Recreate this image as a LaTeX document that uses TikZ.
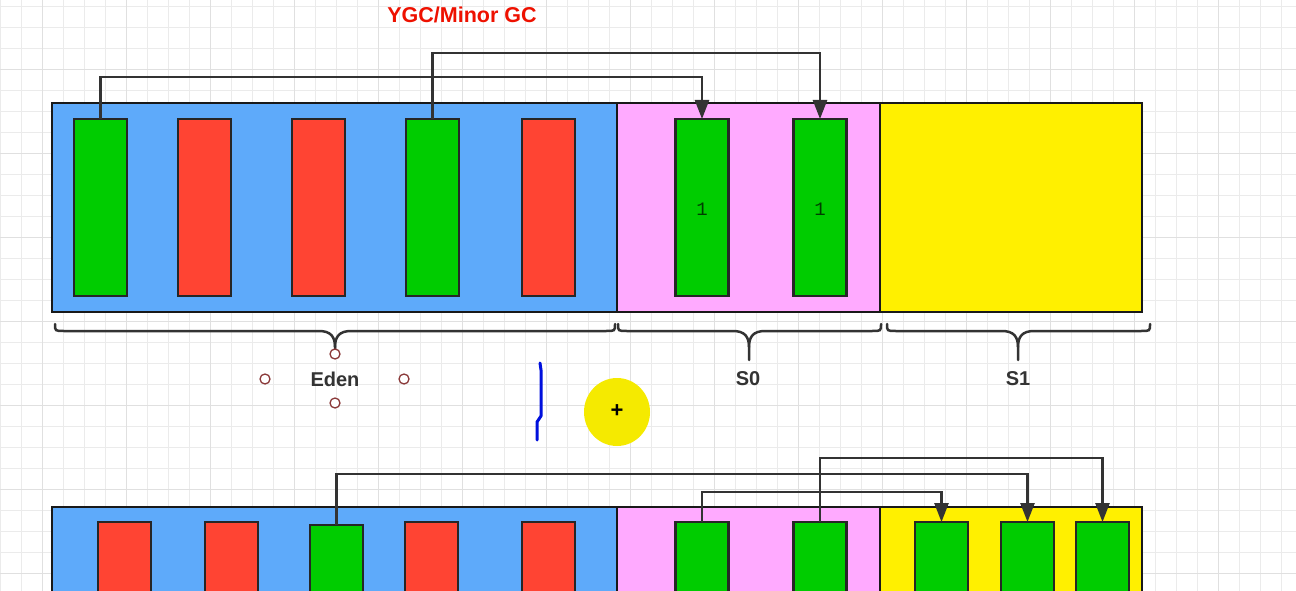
\documentclass[tikz,border=0pt]{standalone}
\usepackage{fontspec}
\setmainfont{Liberation Sans}
\newfontfamily\labelmono{Liberation Mono}
\usetikzlibrary{arrows.meta}
\definecolor{edenblue}{HTML}{5EAAFA}
\definecolor{survpink}{HTML}{FFAAFF}
\definecolor{survyellow}{HTML}{FFF000}
\definecolor{livegreen}{HTML}{00CC00}
\definecolor{deadred}{HTML}{FF4433}
\definecolor{titlered}{HTML}{EE1100}
\definecolor{inkgray}{HTML}{333333}
\definecolor{handlered}{HTML}{8B3A3A}
\definecolor{cursoryellow}{HTML}{F5EA00}
\definecolor{penblue}{HTML}{0010DD}
\newcommand\mybrace[4]{%
  \draw[bracestyle] (#1,324) .. controls (#1,331) .. (#1+9,331) -- (#2-16,331)
      .. controls (#2-4,331) and (#2,337) .. (#2,347) -- (#2,#4);
  \draw[bracestyle] (#3,324) .. controls (#3,331) .. (#3-9,331) -- (#2+16,331)
      .. controls (#2+4,331) and (#2,337) .. (#2,347);}
\begin{document}
\begin{tikzpicture}[x=1pt,y=-1pt,
  gridminor/.style={draw=black!8, line width=0.9pt},
  gridmajor/.style={draw=black!12, line width=1.1pt},
  region/.style={draw=black!90, line width=2.5pt, inner sep=0pt, outer sep=0pt, minimum height=209pt},
  blk/.style={draw=black!85, line width=2.2pt, inner sep=0pt, outer sep=0pt, minimum width=53pt, minimum height=177pt},
  liveblk/.style={blk, fill=livegreen},
  deadblk/.style={blk, fill=deadred},
  conn/.style={draw=inkgray, line width=2.5pt, -{Triangle[length=19pt,width=14pt]}},
  bracestyle/.style={draw=inkgray, line width=2.5pt, line cap=round},
  arealabel/.style={text=inkgray, font=\fontsize{20}{24}\selectfont\bfseries},
  handle/.style={draw=handlered, fill=white, line width=1.3pt, circle, inner sep=0pt, minimum size=10pt},
  agelabel/.style={text=black!70!livegreen, font=\labelmono\fontsize{19}{22}\selectfont}
]
\clip (0,0) rectangle (1296,591);
\fill[white] (0,0) rectangle (1296,591);
% grid
\foreach \i in {0,...,61} \draw[gridminor] ({0.7+21*\i},0) -- ({0.7+21*\i},591);
\foreach \j in {0,...,28} \draw[gridminor] (0,{6.3+21*\j}) -- (1296,{6.3+21*\j});
\foreach \i in {0,...,15} \draw[gridmajor] ({42.7+84*\i},0) -- ({42.7+84*\i},591);
\foreach \j in {0,...,6} \draw[gridmajor] (0,{69.3+84*\j}) -- (1296,{69.3+84*\j});

% title
\node[text=titlered, font=\fontsize{21.5}{24}\selectfont\bfseries] (title) at (462,15) {YGC/Minor GC};

% ---------- top row ----------
\node[region, fill=edenblue, minimum width=565pt] (eden) at (334.5,207.5) {};
\node[region, fill=survpink, minimum width=263pt] (szero) at (748.5,207.5) {};
\node[region, fill=survyellow, minimum width=262pt] (sone) at (1011,207.5) {};

\node[liveblk] (ea) at (100.5,207.5) {};
\node[deadblk] (eb) at (204.5,207.5) {};
\node[deadblk] (ec) at (318.5,207.5) {};
\node[liveblk] (ed) at (432.5,207.5) {};
\node[deadblk] (ee) at (548.5,207.5) {};

\node[liveblk] (sa) at (702,207.5) {};
\node[liveblk] (sb) at (820,207.5) {};
\node[agelabel] (sanum) at (702,209) {1};
\node[agelabel] (sbnum) at (820,209) {1};

\draw[conn] (ea.north) -- ([yshift=42pt]ea.north) -| (sa.north);
\draw[conn] (ed.north) -- ([yshift=66pt]ed.north) -| (sb.north);

% braces
\mybrace{55}{335}{615}{350}
\mybrace{618}{749}{881}{360}
\mybrace{887}{1018}{1150}{360}

% labels
\node[arealabel] (edenlbl) at (335,379) {Eden};
\node[arealabel] (s0lbl) at (748,379) {S0};
\node[arealabel] (s1lbl) at (1018,379) {S1};

% selection handles
\node[handle] (h1) at (335,354) {};
\node[handle] (h2) at (265,379) {};
\node[handle] (h3) at (404,379) {};
\node[handle] (h4) at (335,403) {};

% pen stroke and cursor
\draw[penblue, line width=3pt, line cap=round, line join=round]
  (540,363) -- (541,370) -- (541,416) -- (537,422) -- (537,440);
\fill[cursoryellow] (617,412) ellipse [x radius=33, y radius=34];
\node[font=\fontsize{22}{24}\selectfont\bfseries] (cursor) at (617,411) {+};

% ---------- bottom row ----------
\node[region, fill=edenblue, minimum width=565pt] (edenb) at (334.5,611.5) {};
\node[region, fill=survpink, minimum width=263pt] (szerob) at (748.5,611.5) {};
\node[region, fill=survyellow, minimum width=262pt] (soneb) at (1011,611.5) {};

\node[deadblk] (fa) at (124.5,610.5) {};
\node[deadblk] (fb) at (231.5,610.5) {};
\node[liveblk] (fc) at (336.5,613.5) {};
\node[deadblk] (fd) at (431.5,610.5) {};
\node[deadblk] (fe) at (548.5,610.5) {};

\node[liveblk] (ta) at (702,610.5) {};
\node[liveblk] (tb) at (820,610.5) {};

\node[liveblk] (ua) at (941.5,610.5) {};
\node[liveblk] (ub) at (1027.5,610.5) {};
\node[liveblk] (uc) at (1102.5,610.5) {};

\draw[conn] (fc.north) -- ([yshift=51pt]fc.north) -| (ub.north);
\draw[conn] (tb.north) -- ([yshift=64pt]tb.north) -| (uc.north);
\draw[conn] (ta.north) -- ([yshift=30pt]ta.north) -| (ua.north);
\end{tikzpicture}
\end{document}
